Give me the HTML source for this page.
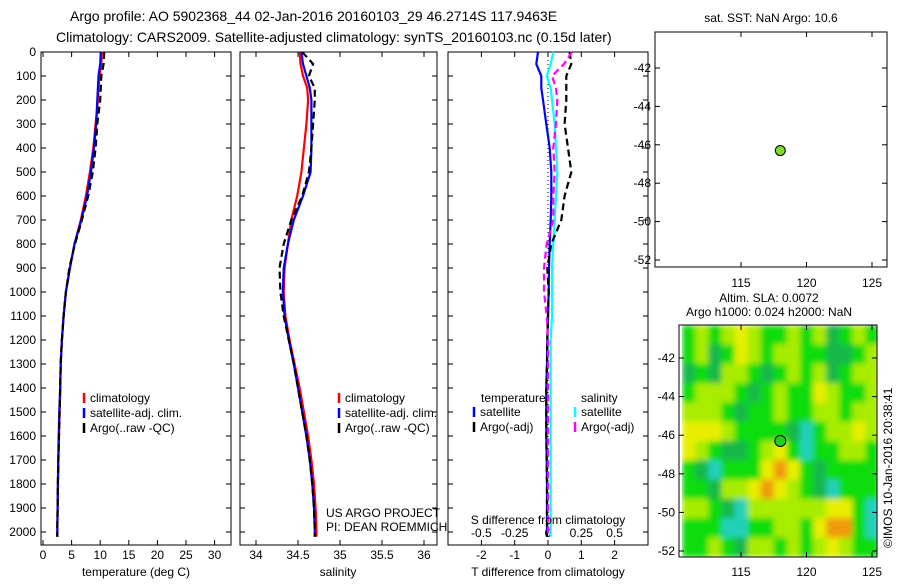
<!DOCTYPE html>
<html><head><meta charset="utf-8"><style>
body{margin:0;background:#fff;width:900px;height:580px;overflow:hidden}
svg{font-family:"Liberation Sans",sans-serif;}
</style></head><body>
<svg id="s" width="900" height="580" xmlns="http://www.w3.org/2000/svg">
<text x="70" y="21" font-size="14">Argo profile: AO 5902368_44 02-Jan-2016 20160103_29 46.2714S 117.9463E</text>
<text x="56" y="42" font-size="14">Climatology: CARS2009. Satellite-adjusted climatology: synTS_20160103.nc (0.15d later)</text>
</svg>
<script>
// ---------- data ----------
const depthTicks=[0,100,200,300,400,500,600,700,800,900,1000,1100,1200,1300,1400,1500,1600,1700,1800,1900,2000];
const tempTicks=[0,5,10,15,20,25,30];
const salTicks=[34,34.5,35,35.5,36];
const tdTicks=[-2,-1,0,1,2];
const sdTicks=[-0.5,-0.25,0,0.25,0.5];
const sdTickLabels=["-0.5","-0.25","0","0.25","0.5"];
const lonTicks=[115,120,125];
const latTicks=[-42,-44,-46,-48,-50,-52];
const depths=[0,50,100,150,200,300,400,500,600,700,800,900,1000,1100,1200,1300,1400,1500,1600,1700,1800,1900,2000,2020];
const tClim=[10.3,10.2,9.9,9.7,9.6,9.2,8.8,8.2,7.5,6.6,5.5,4.7,4.0,3.6,3.3,3.1,3.0,2.9,2.8,2.7,2.6,2.55,2.5,2.5];
const tSat =[10.1,10.0,9.7,9.6,9.5,9.3,8.9,8.4,7.7,6.7,5.5,4.7,4.0,3.6,3.3,3.1,3.0,2.85,2.75,2.65,2.6,2.55,2.5,2.5];
const tArgo=[10.7,10.6,10.2,10.1,10.0,9.5,9.2,8.7,7.9,6.8,5.6,4.6,4.0,3.6,3.3,3.1,3.0,2.9,2.8,2.7,2.6,2.55,2.5,2.5];
const sClim=[34.52,34.53,34.56,34.61,34.62,34.6,34.57,34.54,34.49,34.42,34.38,34.34,34.33,34.35,34.4,34.46,34.52,34.57,34.62,34.66,34.69,34.71,34.72,34.72];
const sSat =[34.54,34.56,34.6,34.64,34.66,34.66,34.66,34.65,34.56,34.45,34.38,34.33,34.32,34.34,34.39,34.45,34.5,34.55,34.6,34.64,34.67,34.69,34.7,34.7];
const sArgo=[34.55,34.68,34.63,34.7,34.7,34.68,34.66,34.63,34.55,34.42,34.33,34.28,34.29,34.33,34.39,34.45,34.5,34.55,34.6,34.64,34.67,34.69,34.7,34.7];
const dTSat =[-0.3,-0.35,-0.2,-0.2,-0.15,-0.05,0.05,0.1,0.1,0.08,0.05,0.03,0.02,0,-0.02,-0.03,-0.05,-0.05,-0.05,-0.04,-0.03,-0.03,-0.03,-0.03];
const dTArgo=[0.65,0.7,0.55,0.55,0.55,0.5,0.6,0.7,0.5,0.4,0.1,-0.02,0.02,0,-0.02,-0.03,-0.05,-0.05,-0.05,-0.04,-0.03,-0.03,-0.03,-0.03];
const dSSat =[0.04,0.02,-0.01,0.02,0.03,0.05,0.06,0.07,0.06,0.05,0.04,0.03,0.03,0.03,0.02,0.02,0.02,0.02,0.02,0.02,0.02,0.02,0.02,0.02];
const dSArgo=[0.18,0.12,0.03,0.06,0.07,0.06,0.04,0.05,0.04,0.04,-0.01,-0.03,-0.03,-0.01,0,0,0,0,0,0,0,0,0,0];
const argoLon=118.0, argoLat=-46.3;
const slaGrid=[
[2,3,2,3,4,3,2,2,3,2,3,1,2,3,2],
[2,3,1,2,4,3,2,3,3,2,2,1,1,2,3],
[1,2,1,3,3,2,1,2,3,2,3,1,2,3,3],
[2,3,3,3,2,1,2,3,2,2,4,3,2,2,3],
[3,3,3,2,1,2,2,3,2,2,3,3,2,3,3],
[4,4,4,3,2,2,2,2,1,0,2,3,3,4,3],
[4,3,2,1,1,2,3,4,2,0,2,2,3,3,2],
[2,1,0,2,2,2,4,5,4,2,1,2,2,2,2],
[2,2,1,3,3,4,5,4,3,2,1,0,2,2,2],
[3,3,2,1,0,3,3,3,3,3,3,4,4,2,0],
[2,2,2,0,0,2,2,3,3,2,4,5,5,2,0],
[2,2,3,2,1,3,3,2,3,2,3,4,3,2,2]];
// ---------- drawing ----------
const S=document.getElementById('s');const NS='http://www.w3.org/2000/svg';
function el(t,a,p){const e=document.createElementNS(NS,t);for(const k in a)e.setAttribute(k,a[k]);(p||S).appendChild(e);return e;}
function txt(x,y,s,a){const e=el('text',Object.assign({x:x,y:y,'font-size':12},a||{}));e.textContent=s;return e;}
const Y=d=>52+d*0.24;
function panel(x0,x1,name){const g=el('g',{});
 el('rect',{x:x0,y:52,width:x1-x0,height:493,fill:'none',stroke:'#000'},g);return g;}
function line(g,xs,X,col,dash,name,n){let d='';const m=n||depths.length;for(let i=0;i<m;i++)d+=(i?'L':'M')+X(xs[i]).toFixed(1)+','+Y(depths[i]).toFixed(1);
 const p=el('path',{d:d,fill:'none',stroke:col,'stroke-width':2.2,'stroke-dasharray':dash||''},g);}
function xticks(g,ticks,X,labels,yb,top){ticks.forEach((t,i)=>{const x=X(t);el('line',{x1:x,x2:x,y1:545,y2:540,stroke:'#000'},g);if(top)el('line',{x1:x,x2:x,y1:52,y2:57,stroke:'#000'},g);
 const e=txt(x,yb,labels?labels[i]:String(t),{'text-anchor':'middle'},g);g.appendChild(e);});}
function yticks(g,x0,x1,lab){depthTicks.forEach(d=>{el('line',{x1:x0,x2:x0+5,y1:Y(d),y2:Y(d),stroke:'#000'},g);el('line',{x1:x1-5,x2:x1,y1:Y(d),y2:Y(d),stroke:'#000'},g);
 if(lab){const e=txt(x0-5,Y(d)+4,String(d),{'text-anchor':'end'});g.appendChild(e);}});}
function legend(g,x,y,items){items.forEach((it,i)=>{el('line',{x1:x,x2:x,y1:y+i*15-9,y2:y+i*15+1,stroke:it[1],'stroke-width':2.5},g);const e=txt(x+6,y+i*15,it[0]);g.appendChild(e);});}
// panel 1 temperature
const XT=v=>43+v*5.72;
let g=panel(41,231,'temperature-panel');yticks(g,41,231,true);xticks(g,tempTicks,XT,null,559,true);
txt(136,576,'temperature (deg C)',{'text-anchor':'middle'});
line(g,tClim,XT,'#f00','','temp-climatology');line(g,tSat,XT,'#00f','','temp-satellite');line(g,tArgo,XT,'#000','7,4','temp-argo');
legend(g,84,402,[['climatology','#f00'],['satellite-adj. clim.','#00f'],['Argo(..raw -QC)','#000']]);
// panel 2 salinity
const XS=v=>256+(v-34)*84;
g=panel(240,437,'salinity-panel');yticks(g,240,437,false);xticks(g,salTicks,XS,null,559,true);
txt(338,576,'salinity',{'text-anchor':'middle'});
line(g,sClim,XS,'#f00','','sal-climatology');line(g,sSat,XS,'#00f','','sal-satellite');line(g,sArgo,XS,'#000','7,4','sal-argo');
legend(g,339,402,[['climatology','#f00'],['satellite-adj. clim.','#00f'],['Argo(..raw -QC)','#000']]);
txt(326,517,'US ARGO PROJECT');txt(326,531,'PI: DEAN ROEMMICH');
// panel 3 diffs
const XD=v=>548+v*33.3, XDS=v=>548+v*133.2;
g=panel(448,648,'difference-panel');yticks(g,448,648,false);xticks(g,tdTicks,XD,null,559,false);
sdTicks.forEach((t,i)=>{const x=XDS(t);el('line',{x1:x,x2:x,y1:52,y2:57,stroke:'#000'},g);g.appendChild(txt(x,537,sdTickLabels[i],{'text-anchor':'middle'}));});
txt(548,524,'S difference from climatology',{'text-anchor':'middle'});
txt(548,576,'T difference from climatology',{'text-anchor':'middle'});
el('line',{x1:548,x2:548,y1:52,y2:545,stroke:'#000','stroke-dasharray':'1,3'},g);
line(g,dTSat,XD,'#00f','','tdiff-satellite');line(g,dSSat,XDS,'#0ff','','sdiff-satellite');
line(g,dTArgo,XD,'#000','7,4','tdiff-argo');line(g,dSArgo,XDS,'#f0f','7,4','sdiff-argo');
txt(481,402,'temperature');txt(581,402,'salinity');
legend(g,474,416,[['satellite','#00f'],['Argo(-adj)','#000']]);legend(g,575,416,[['satellite','#0ff'],['Argo(-adj)','#f0f']]);
// map 1 SST
const LX=v=>741+(v-115)*13.1, LY1=v=>68+(-42-v)*19.2;
g=el('g',{});
el('rect',{x:655,y:32,width:232,height:235,fill:'none',stroke:'#000'},g);
txt(771,22,'sat. SST: NaN Argo: 10.6',{'text-anchor':'middle'});
lonTicks.forEach(t=>{el('line',{x1:LX(t),x2:LX(t),y1:267,y2:262,stroke:'#000'},g);el('line',{x1:LX(t),x2:LX(t),y1:32,y2:37,stroke:'#000'},g);txt(LX(t),287,String(t),{'text-anchor':'middle'});});
latTicks.forEach(t=>{el('line',{x1:655,x2:660,y1:LY1(t),y2:LY1(t),stroke:'#000'},g);el('line',{x1:882,x2:887,y1:LY1(t),y2:LY1(t),stroke:'#000'},g);txt(651,LY1(t)+4,String(t),{'text-anchor':'end'});});
let c=el('circle',{cx:LX(argoLon),cy:LY1(argoLat),r:5,fill:'#7fdc2a',stroke:'#000'},g);
// map 2 SLA
const LY2=v=>358+(-42-v)*19.3;
const cols=['#20d0b8','#18b848','#10dc10','#a8ec00','#e8ee00','#f09a10'];
g=el('g',{});
txt(769,302,'Altim. SLA: 0.0072',{'text-anchor':'middle'});txt(769,316,'Argo h1000: 0.024 h2000: NaN',{'text-anchor':'middle'});
const defs=el('defs',{},g);const f=el('filter',{id:'bl',x:0,y:0,width:1,height:1},defs);el('feGaussianBlur',{stdDeviation:3,edgeMode:'duplicate'},f);
el('clipPath',{id:'cp'},defs);el('rect',{x:679,y:325,width:198,height:232},document.getElementById('cp'));
const hm=el('g',{'clip-path':'url(#cp)'},g);const hb=el('g',{filter:'url(#bl)'},hm);
slaGrid.forEach((row,r)=>row.forEach((v,k)=>{const x0=LX(110.5+k),y0=LY2(-40.3-r);const rc=el('rect',{x:x0,y:y0,width:13.6,height:19.8,fill:cols[v]},hb);
 }));
el('rect',{x:679,y:325,width:198,height:232,fill:'none',stroke:'#000'},g);
lonTicks.forEach(t=>{el('line',{x1:LX(t),x2:LX(t),y1:557,y2:552,stroke:'#000'},g);el('line',{x1:LX(t),x2:LX(t),y1:325,y2:330,stroke:'#000'},g);txt(LX(t),576,String(t),{'text-anchor':'middle'});});
latTicks.forEach(t=>{el('line',{x1:679,x2:684,y1:LY2(t),y2:LY2(t),stroke:'#000'},g);el('line',{x1:872,x2:877,y1:LY2(t),y2:LY2(t),stroke:'#000'},g);txt(675,LY2(t)+4,String(t),{'text-anchor':'end'});});
c=el('circle',{cx:LX(argoLon),cy:LY2(argoLat),r:5.5,fill:'#20d020',stroke:'#000'},g);
const r=txt(0,0,'©IMOS 10-Jan-2016 20:38:41',{transform:'translate(892,548) rotate(-90)'});
</script>
</body></html>
